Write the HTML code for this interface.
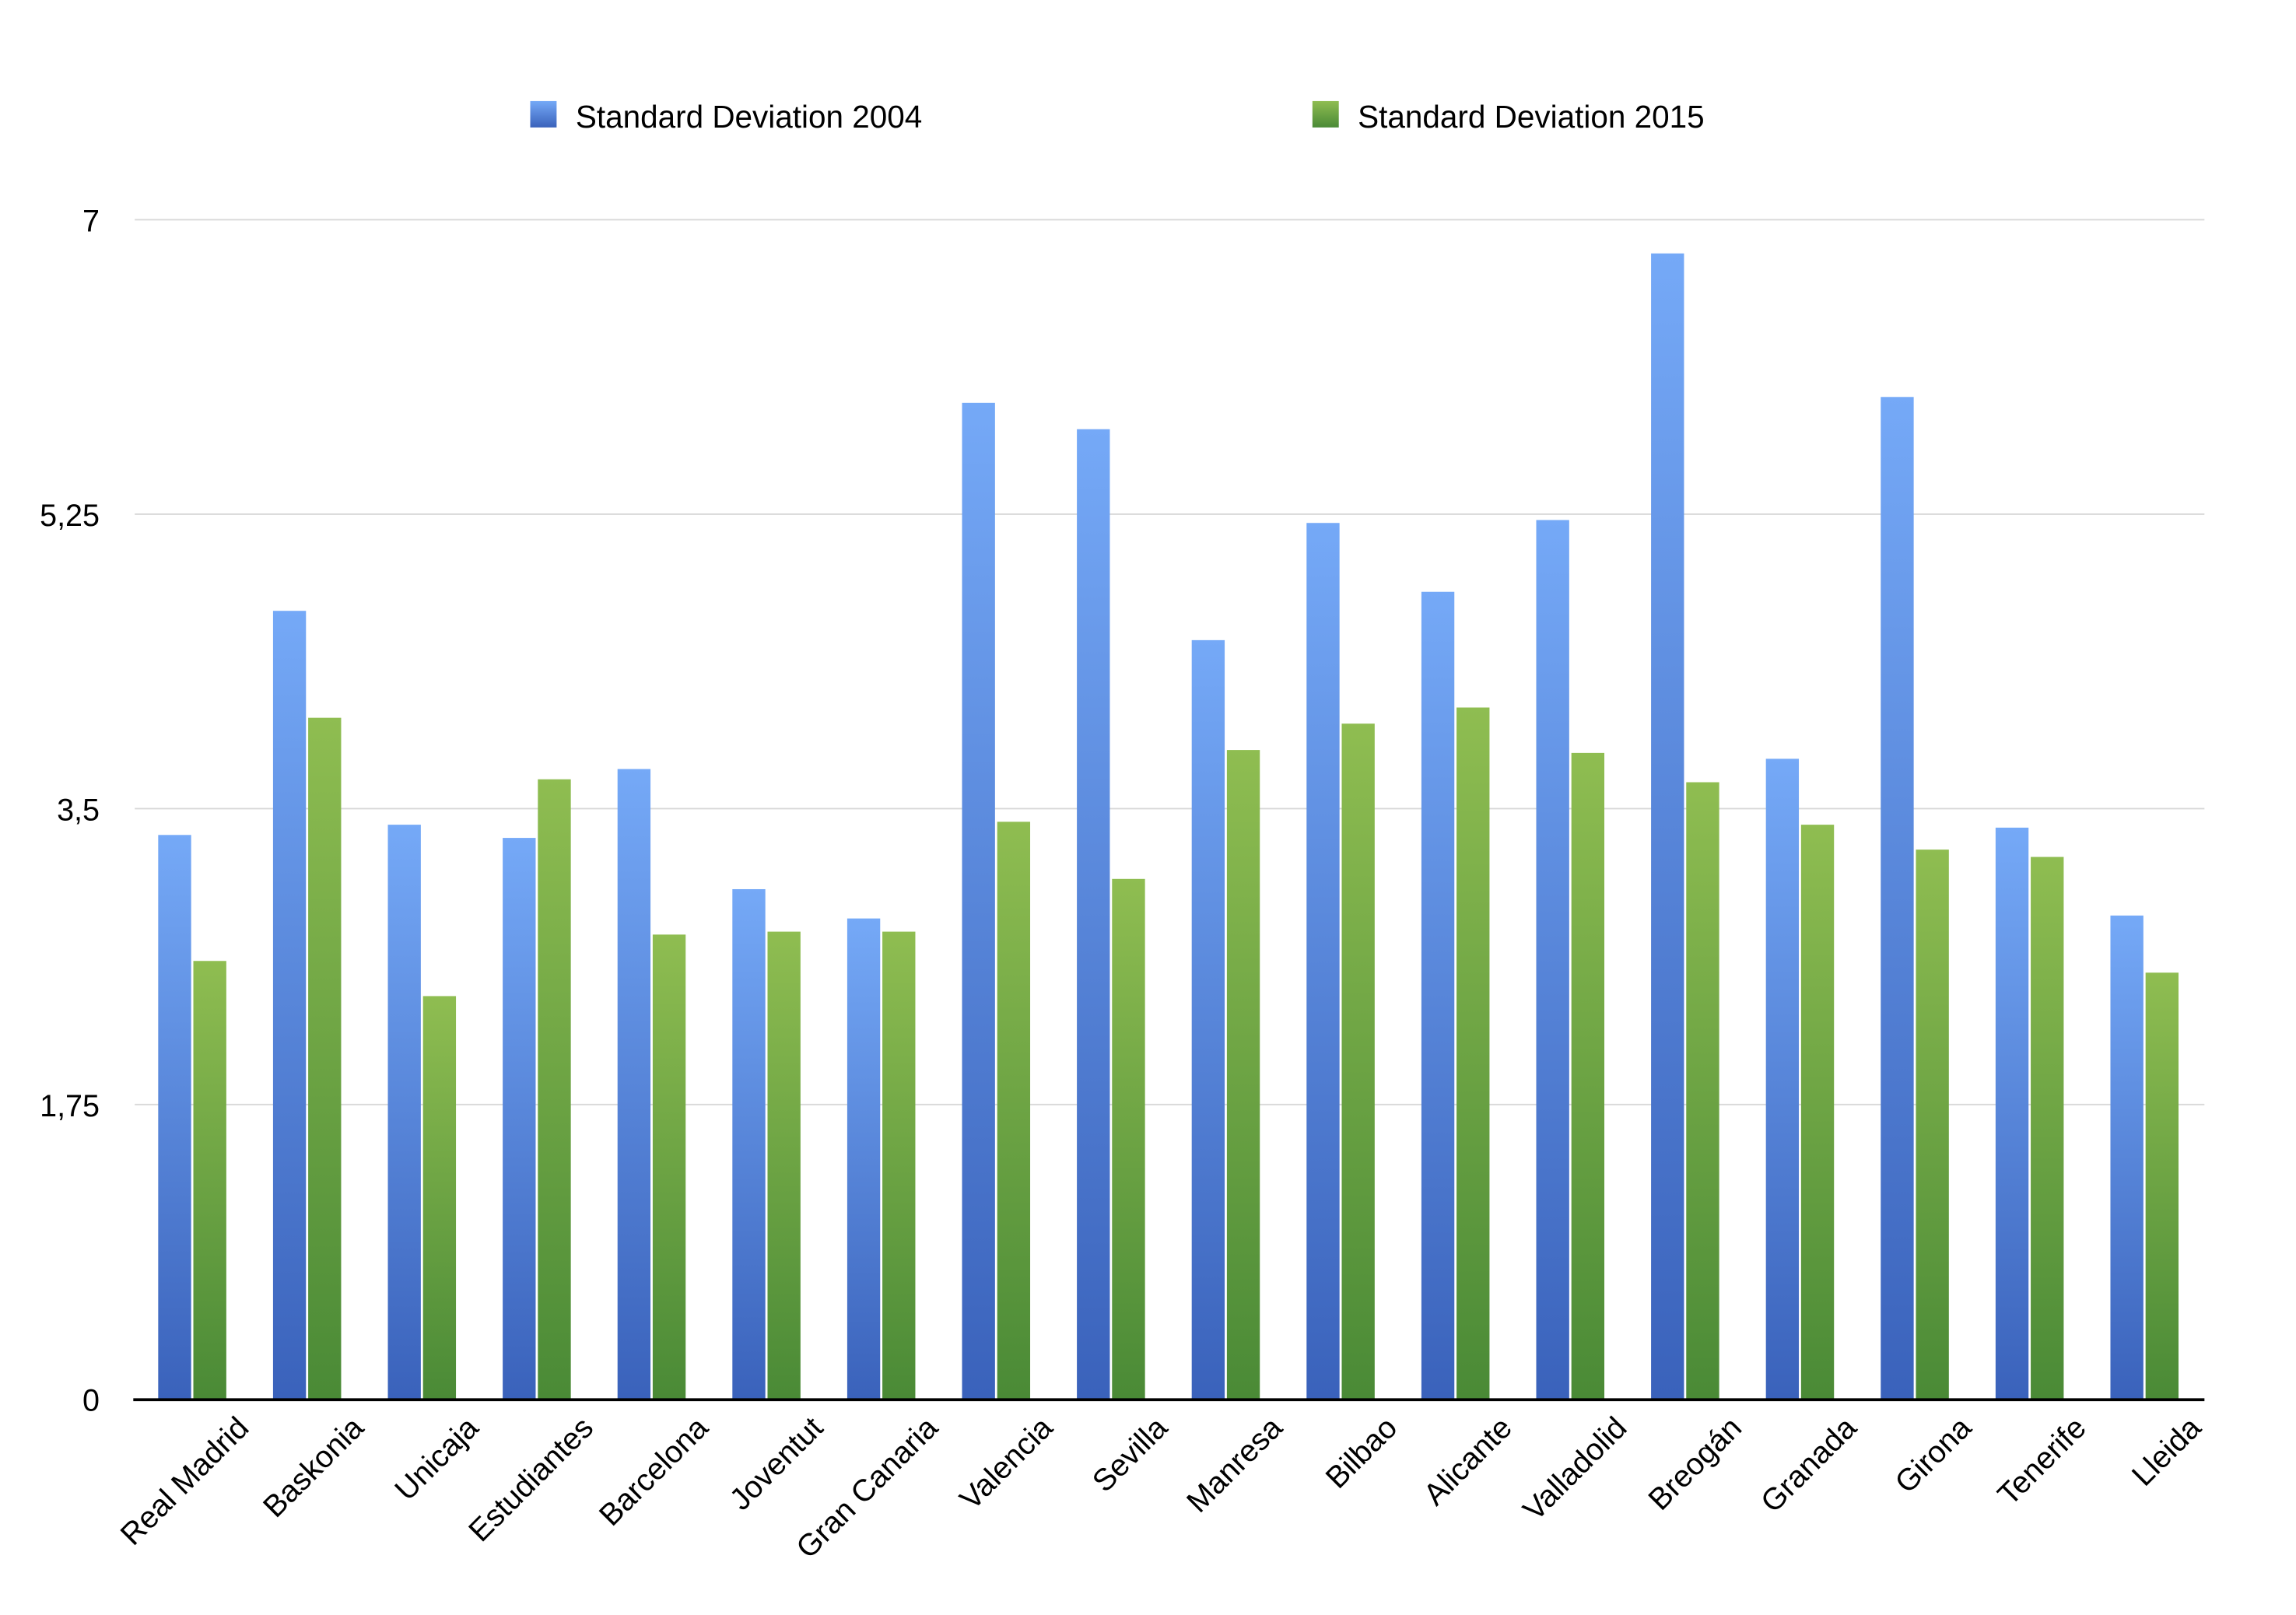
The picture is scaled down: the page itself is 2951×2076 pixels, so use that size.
<!DOCTYPE html>
<html><head><meta charset="utf-8"><style>
html,body{margin:0;padding:0;background:#fff;}
svg{display:block;}
text{font-family:"Liberation Sans",Arial,sans-serif;fill:#000;}
</style></head><body>
<svg width="2951" height="2076" viewBox="0 0 1567.5 1102.5" preserveAspectRatio="none" xmlns="http://www.w3.org/2000/svg">
<defs>
<linearGradient id="gb" x1="0" y1="0" x2="0" y2="1"><stop offset="0" stop-color="#75a9f7"/><stop offset="1" stop-color="#3a62bb"/></linearGradient>
<linearGradient id="gg" x1="0" y1="0" x2="0" y2="1"><stop offset="0" stop-color="#8fbd51"/><stop offset="1" stop-color="#4a8a36"/></linearGradient>
</defs>
<rect x="362" y="69" width="18" height="18" fill="url(#gb)"/>
<text x="393" y="87" font-size="21.5">Standard Deviation 2004</text>
<rect x="896" y="69" width="18" height="18" fill="url(#gg)"/>
<text x="927" y="87" font-size="21.5">Standard Deviation 2015</text>
<g stroke="#d8d8d8" stroke-width="1">
<line x1="92" y1="150" x2="1505" y2="150"/>
<line x1="92" y1="351" x2="1505" y2="351"/>
<line x1="92" y1="552" x2="1505" y2="552"/>
<line x1="92" y1="754" x2="1505" y2="754"/>
</g>
<g font-size="21" text-anchor="end">
<text x="68" y="158">7</text>
<text x="68" y="359">5,25</text>
<text x="68" y="560">3,5</text>
<text x="68" y="762">1,75</text>
<text x="68" y="963">0</text>
</g>
<g id="bars"></g>
<line x1="91" y1="955.5" x2="1505" y2="955.5" stroke="#000" stroke-width="2"/>
<g id="labels" font-size="21" text-anchor="end"></g>
<script>
var d=[["Real Madrid",570,656],["Baskonia",417,490],["Unicaja",563,680],["Estudiantes",572,532],["Barcelona",525,638],["Joventut",607,636],["Gran Canaria",627,636],["Valencia",275,561],["Sevilla",293,600],["Manresa",437,512],["Bilbao",357,494],["Alicante",404,483],["Valladolid",355,514],["Breogán",173,534],["Granada",518,563],["Girona",271,580],["Tenerife",565,585],["Lleida",625,664]];
var ns="http://www.w3.org/2000/svg",b=document.getElementById("bars"),l=document.getElementById("labels");
d.forEach(function(r,i){var x=108+i*78.4;
function rc(x0,y,f){var e=document.createElementNS(ns,"rect");e.setAttribute("x",x0);e.setAttribute("y",y);e.setAttribute("width",22.5);e.setAttribute("height",955-y);e.setAttribute("fill",f);b.appendChild(e);}
rc(x,r[1],"url(#gb)");rc(x+24,r[2],"url(#gg)");
var t=document.createElementNS(ns,"text");var cx=x+23+40,cy=976;t.setAttribute("x",cx);t.setAttribute("y",cy);t.setAttribute("transform","rotate(-45 "+cx+" "+cy+")");t.textContent=r[0];l.appendChild(t);});
</script>
</svg>
</body></html>
